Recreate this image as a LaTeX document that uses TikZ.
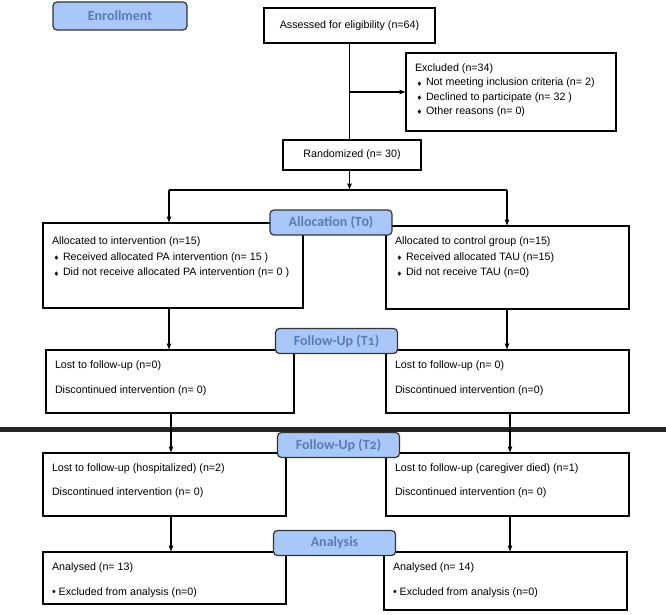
\documentclass[tikz,border=0pt]{standalone}
\usepackage{amssymb}
\usepackage{fontspec}
\setmainfont{Liberation Sans}
\newfontfamily\stagefont[Numbers=OldStyle]{Carlito}
\usetikzlibrary{positioning}
\usetikzlibrary{arrows}

\definecolor{stagefill}{RGB}{170,199,249}
\definecolor{stagetext}{RGB}{88,124,182}

% small diamond bullet
\newcommand{\dia}{\hspace*{2pt}\makebox[9pt][l]{\raisebox{0.5pt}{\tiny$\blacklozenge$}}}

\begin{document}
\begin{tikzpicture}[x=1pt,y=-1pt,>=latex,
   box/.style n args={3}{draw,line width=1.4pt,anchor=north west,outer sep=0pt,
      inner xsep=9pt,inner ysep=0pt,font=\fontsize{10.7pt}{14.3pt}\selectfont,
      execute at begin node={\begin{minipage}[t][#2][t]{#1}\rule{0pt}{#3}},
      execute at end node={\end{minipage}}},
   cbox/.style={draw,line width=1.4pt,outer sep=0pt,inner sep=0pt,
      font=\fontsize{10.7pt}{14.3pt}\selectfont},
   stage/.style={draw=black!80,line width=1.2pt,rounded corners=4pt,fill=stagefill,
      text=stagetext,font=\stagefont\bfseries\fontsize{14pt}{16pt}\selectfont,
      minimum width=122pt,minimum height=25pt,inner sep=0pt},
   line/.style={line width=1.2pt}]
   \useasboundingbox (0,0) rectangle (666,615);

   % enrollment
   \node[cbox,minimum width=171pt,minimum height=35pt] (assess) at (349.5,25.5) {Assessed for eligibility (n=64)};
   \node[box={192pt}{78pt}{18.5pt}] (excl) at (406,53) {Excluded (n=34)\\
      \dia Not meeting inclusion criteria (n= 2)\\
      \dia Declined to participate (n= 32 )\\
      \dia Other reasons (n= 0)};
   \node[cbox,minimum width=138pt,minimum height=30pt] (rand) at (352,155) {Randomized (n= 30)};

   % allocation
   \node[box={242pt}{85pt}{21.5pt}] (intv) at (43,223) {Allocated to intervention (n=15)\\[1.2pt]
      \dia Received allocated PA intervention (n= 15 )\\[1.2pt]
      \dia Did not receive allocated PA intervention (n= 0 )};
   \node[box={225pt}{83pt}{18.5pt}] (ctrl) at (386,226) {Allocated to control group (n=15)\\[1.2pt]
      \dia Received allocated TAU (n=15)\\[1.2pt]
      \dia Did not receive TAU (n=0)};

   % follow-up
   \node[box={230pt}{63pt}{18.5pt}] (lostA) at (46,350) {Lost to follow-up (n=0)\\[10.7pt]
      Discontinued intervention (n= 0)};
   \node[box={225pt}{63pt}{18.5pt}] (lostB) at (386,350) {Lost to follow-up (n= 0)\\[10.7pt]
      Discontinued intervention (n=0)};
   \node[box={225pt}{63pt}{18.5pt}] (hospA) at (43,453) {Lost to follow-up (hospitalized) (n=2)\\[9.7pt]
      Discontinued intervention (n= 0)};
   \node[box={225pt}{63pt}{18.5pt}] (diedB) at (386,453) {Lost to follow-up (caregiver died) (n=1)\\[9.7pt]
      Discontinued intervention (n= 0)};

   % analysis
   \node[box={225pt}{52pt}{18.5pt}] (anaA) at (43,552) {Analysed (n= 13)\\[10.7pt]
      \textbullet\ Excluded from analysis (n=0)};
   \node[box={225pt}{58pt}{18.5pt}] (anaB) at (384,552) {Analysed (n= 14)\\[10.7pt]
      \textbullet\ Excluded from analysis (n=0)};

   \coordinate (jl) at (169,190);
   \coordinate (jr) at (507,190);
   \coordinate (cl) at (171,0);
   \coordinate (cr) at (510,0);

   \draw[line] (assess.south) -- (assess.south |- rand.north);
   \draw[line,->] (assess.south |- excl.west) -- (excl.west);
   \draw[line,->] (rand.south -| assess.south) -- (assess.south |- jl);
   \draw[line] (jl) -- (jr);
   \draw[line,->] (jl) -- (jl |- intv.north);
   \draw[line,->] (jr) -- (jr |- ctrl.north);
   \draw[line,->] (intv.south -| jl) -- (jl |- lostA.north);
   \draw[line,->] (ctrl.south -| jr) -- (jr |- lostB.north);

   % separating rule
   \draw[line width=5pt,black!85] (0,429.5) -- (666,429.5);

   \draw[line,->] (lostA.south -| cl) -- (cl |- hospA.north);
   \draw[line,->] (lostB.south -| cr) -- (cr |- diedB.north);
   \draw[line,->] (hospA.south -| cl) -- (cl |- anaA.north);
   \draw[line,->] (diedB.south -| cr) -- (cr |- anaB.north);

   % stage labels
   \node[stage,minimum width=134pt,minimum height=28pt] (enroll) at (120,16) {Enrollment};
   \node[stage] (alloc) at (331,222.5) {Allocation (T0)};
   \node[stage] (fu1) at (336.5,341) {Follow-Up (T1)};
   \node[stage] (fu2) at (338.5,445) {Follow-Up (T2)};
   \node[stage] (anl) at (334.5,543) {Analysis};
\end{tikzpicture}
\end{document}
